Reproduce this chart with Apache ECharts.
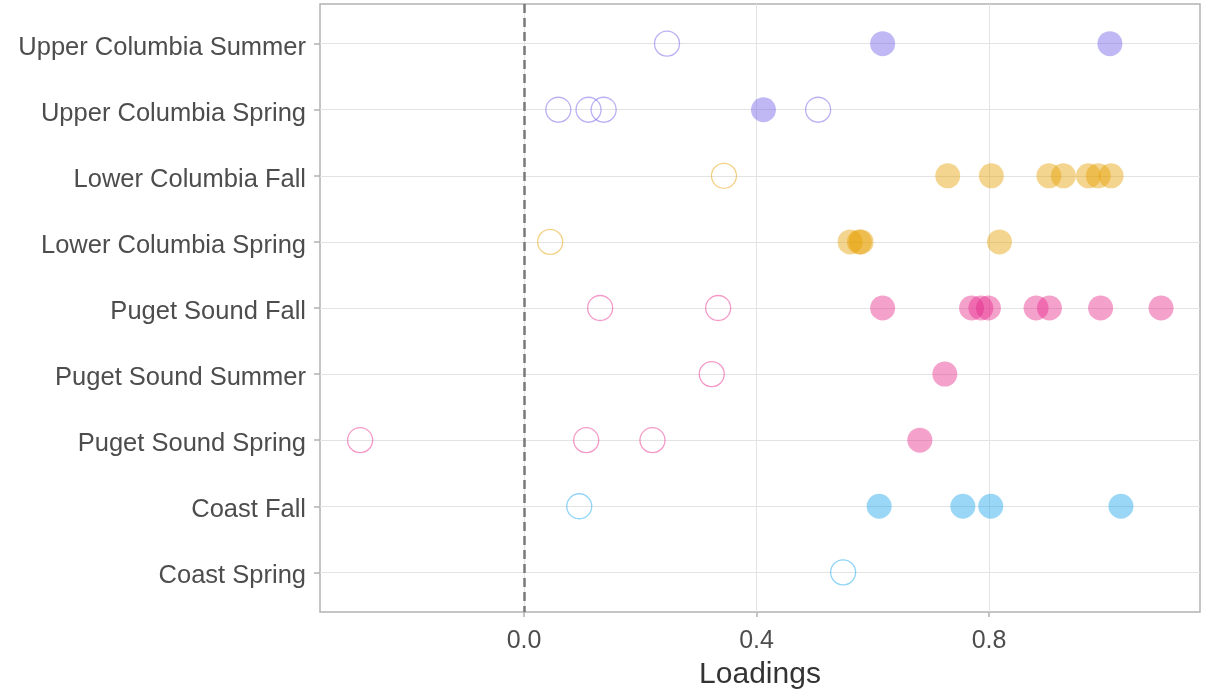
<!DOCTYPE html>
<html>
<head>
<meta charset="utf-8">
<title>Loadings by stock</title>
<script src="https://cdn.jsdelivr.net/npm/echarts@6/dist/echarts.min.js"></script>
<style>
  html, body { margin: 0; padding: 0; background: #ffffff; }
  #chart { width: 1212px; height: 692px; }
</style>
</head>
<body>
<div id="chart"></div>
<script>
// Stocks, listed top to bottom
const categories = [
  'Upper Columbia Summer',
  'Upper Columbia Spring',
  'Lower Columbia Fall',
  'Lower Columbia Spring',
  'Puget Sound Fall',
  'Puget Sound Summer',
  'Puget Sound Spring',
  'Coast Fall',
  'Coast Spring'
];

// Region of each stock (sets the colour)
const regions = [
  'Upper Columbia', 'Upper Columbia',
  'Lower Columbia', 'Lower Columbia',
  'Puget Sound', 'Puget Sound', 'Puget Sound',
  'Coast', 'Coast'
];

// Loadings drawn as filled circles
const filledLoadings = [
  [0.617, 1.008],
  [0.412],
  [0.729, 0.804, 0.903, 0.928, 0.971, 0.988, 1.010],
  [0.561, 0.577, 0.580, 0.818],
  [0.617, 0.770, 0.786, 0.799, 0.881, 0.904, 0.992, 1.096],
  [0.724],
  [0.681],
  [0.611, 0.755, 0.803, 1.027],
  []
];

// Loadings drawn as open circles
const openLoadings = [
  [0.246],
  [0.059, 0.111, 0.137, 0.506],
  [0.344],
  [0.045],
  [0.131, 0.334],
  [0.323],
  [-0.282, 0.107, 0.221],
  [0.095],
  [0.549]
];

const xTicks = [0.0, 0.4, 0.8];

const regionColors = {
  'Upper Columbia': [111, 93, 230],
  'Lower Columbia': [230, 159, 0],
  'Puget Sound': [231, 41, 138],
  'Coast': [24, 165, 236]
};
const rgba = (c, a) => `rgba(${c[0]},${c[1]},${c[2]},${a})`;

const regionOrder = ['Upper Columbia', 'Lower Columbia', 'Puget Sound', 'Coast'];

function pointsFor(region, source) {
  const pts = [];
  source.forEach((vals, i) => {
    if (regions[i] !== region) return;
    vals.forEach(v => pts.push([v, i]));
  });
  return pts;
}

const series = [];
regionOrder.forEach(region => {
  const c = regionColors[region];
  series.push({
    name: region + ' open',
    type: 'scatter',
    symbol: 'circle',
    symbolSize: 25,
    data: pointsFor(region, openLoadings),
    itemStyle: { color: 'rgba(0,0,0,0)', borderColor: rgba(c, 0.6), borderWidth: 1.3 },
    z: 3
  });
  series.push({
    name: region + ' filled',
    type: 'scatter',
    symbol: 'circle',
    symbolSize: 25,
    data: pointsFor(region, filledLoadings),
    itemStyle: { color: rgba(c, 0.55), borderWidth: 0 },
    z: 4
  });
});

// Dashed reference line at zero
series[0].markLine = {
  silent: true,
  symbol: ['none', 'none'],
  label: { show: false },
  lineStyle: { color: '#7a7a7a', width: 2.5, type: [9, 5] },
  data: [{ xAxis: 0 }],
  z: 2
};

const fontFamily = '"Liberation Sans", Arial, sans-serif';

const chart = echarts.init(document.getElementById('chart'), null, { renderer: 'canvas' });
chart.setOption({
  animation: false,
  backgroundColor: '#ffffff',
  grid: {
    left: 320, right: 12, top: 4, bottom: 80,
    containLabel: false,
    outerBoundsMode: 'none',
    show: true,
    borderColor: '#b3b3b3',
    borderWidth: 1.5,
    backgroundColor: 'transparent'
  },
  xAxis: {
    type: 'value',
    min: -0.351,
    max: 1.163,
    name: 'Loadings',
    nameLocation: 'middle',
    nameGap: 48,
    nameTextStyle: { fontSize: 30, color: '#333333', fontFamily },
    axisLine: { show: false, onZero: false },
    axisTick: { show: true, length: 5, lineStyle: { color: '#b3b3b3', width: 1.5 }, customValues: xTicks },
    axisLabel: {
      fontSize: 25, color: '#4d4d4d', fontFamily, margin: 17,
      customValues: xTicks,
      formatter: v => v.toFixed(1)
    },
    splitLine: { show: true, lineStyle: { color: '#e3e3e3', width: 1 } }
  },
  yAxis: {
    type: 'value',
    inverse: true,
    min: -0.6,
    max: categories.length - 1 + 0.6,
    axisLine: { show: false, onZero: false },
    axisTick: {
      show: true, length: 6, lineStyle: { color: '#b3b3b3', width: 1.5 },
      customValues: categories.map((_, i) => i)
    },
    axisLabel: {
      fontSize: 25.5, color: '#4d4d4d', fontFamily, margin: 14,
      verticalAlign: 'top',
      lineHeight: 8,
      customValues: categories.map((_, i) => i),
      formatter: v => categories[Math.round(v)]
    },
    splitLine: { show: true, lineStyle: { color: '#e3e3e3', width: 1 } }
  },
  series
});
</script>
</body>
</html>
